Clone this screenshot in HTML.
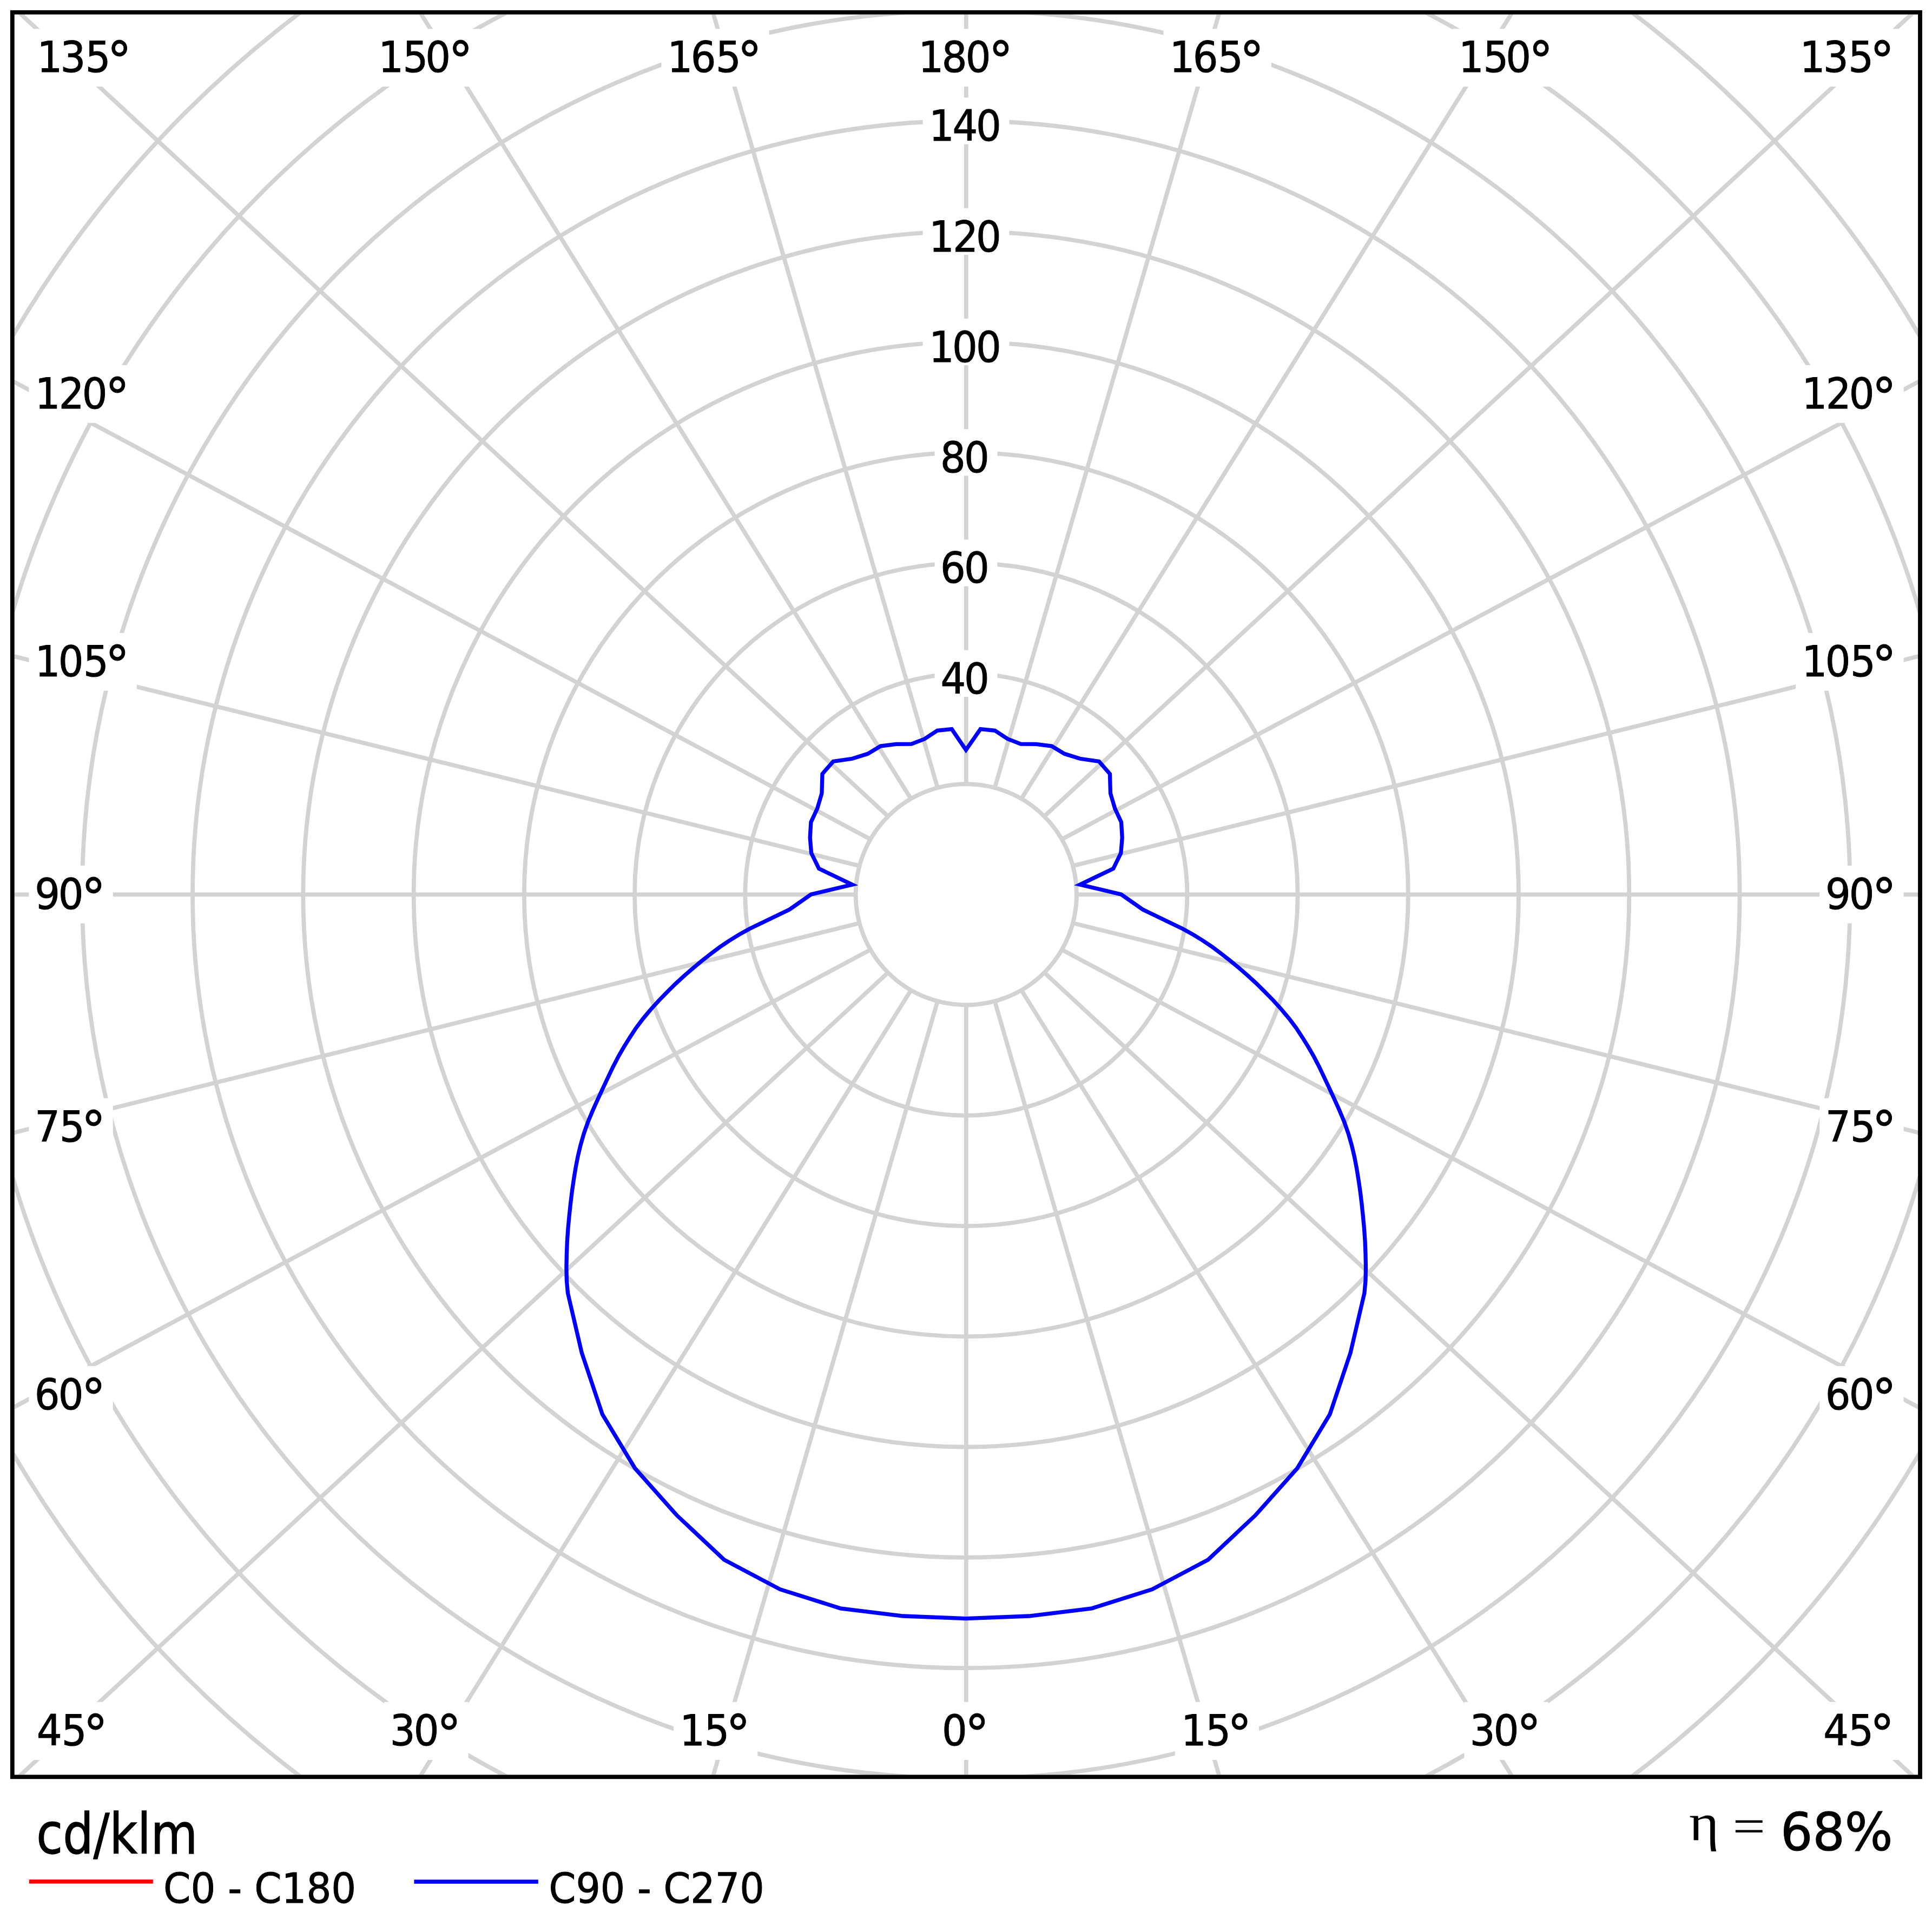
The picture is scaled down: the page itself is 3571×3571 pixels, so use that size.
<!DOCTYPE html>
<html><head><meta charset="utf-8"><title>Polar luminous intensity diagram</title><style>html,body{margin:0;padding:0;background:#fff;}svg{display:block;}</style></head><body>
<svg xmlns="http://www.w3.org/2000/svg" width="3571" height="3571" viewBox="0 0 3571 3571">
<rect width="3571" height="3571" fill="#fff"/>
<defs><clipPath id="fr"><rect x="27" y="27" width="3518" height="3253"/></clipPath></defs>
<g clip-path="url(#fr)">
<g fill="none" stroke="#d3d3d3" stroke-width="7.8">
<circle cx="1785.8" cy="1653.3" r="204.2"/>
<circle cx="1785.8" cy="1653.3" r="408.5"/>
<circle cx="1785.8" cy="1653.3" r="612.8"/>
<circle cx="1785.8" cy="1653.3" r="817.0"/>
<circle cx="1785.8" cy="1653.3" r="1021.2"/>
<circle cx="1785.8" cy="1653.3" r="1225.5"/>
<circle cx="1785.8" cy="1653.3" r="1429.8"/>
<circle cx="1785.8" cy="1653.3" r="1634.0"/>
<circle cx="1785.8" cy="1653.3" r="1838.2"/>
<circle cx="1785.8" cy="1653.3" r="2042.5"/>
<path d="M1785.8,1857.5L1785.8,4657.6M1838.7,1850.6L2617.7,4540.0M1887.9,1830.2L3370.5,4205.5M1930.2,1797.7L3985.7,3699.1M1962.7,1755.4L4432.5,3074.5M1983.1,1706.2L4700.9,2379.8M1990.0,1653.3L4790.1,1653.3M1983.1,1600.4L4700.9,926.8M1962.7,1551.2L4432.5,232.1M1930.2,1508.9L3985.7,-392.5M1887.9,1476.4L3370.5,-898.9M1838.7,1456.0L2617.7,-1233.4M1785.8,1449.0L1785.8,-1351.0M1732.9,1456.0L953.9,-1233.4M1683.7,1476.4L201.1,-898.9M1641.4,1508.9L-414.1,-392.5M1608.9,1551.2L-860.9,232.1M1588.5,1600.4L-1129.3,926.8M1581.5,1653.3L-1218.5,1653.3M1588.5,1706.2L-1129.3,2379.8M1608.9,1755.4L-860.9,3074.5M1641.4,1797.7L-414.1,3699.1M1683.7,1830.2L201.1,4205.5M1732.9,1850.6L953.9,4540.0"/>
</g>
<path d="M1785.4,2991.6 L1902.1,2987.0 L2018.0,2972.8 L2129.5,2937.7 L2232.9,2882.9 L2320.4,2800.8 L2397.7,2714.0 L2458.0,2614.1 L2496.1,2500.5 L2521.9,2390.0 L2524.0,2366.8 L2524.5,2342.7 L2524.0,2318.5 L2523.1,2294.7 L2521.5,2271.2 L2519.3,2247.8 L2516.9,2225.0 L2514.2,2202.7 L2511.0,2180.7 L2507.5,2159.1 L2503.4,2137.8 L2498.3,2116.4 L2492.2,2095.2 L2484.6,2073.6 L2475.6,2052.0 L2466.0,2030.8 L2456.5,2010.3 L2447.3,1990.8 L2438.4,1972.0 L2428.8,1953.5 L2418.2,1935.2 L2407.2,1917.4 L2395.8,1900.1 L2382.8,1882.8 L2368.6,1865.8 L2353.3,1849.0 L2337.5,1832.9 L2321.9,1817.5 L2305.8,1802.7 L2289.4,1788.6 L2273.1,1775.1 L2256.8,1762.3 L2240.7,1750.3 L2223.6,1738.7 L2205.6,1727.6 L2186.5,1717.0 L2112.1,1681.1 L2072.4,1653.2 L1996.1,1635.1 L2057.7,1605.5 L2071.8,1576.8 L2074.2,1548.4 L2072.5,1519.6 L2060.8,1494.5 L2052.5,1466.5 L2051.4,1430.3 L2031.4,1407.5 L1996.2,1402.3 L1967.6,1393.3 L1943.9,1379.1 L1915.1,1375.4 L1886.7,1375.1 L1862.5,1365.8 L1838.9,1350.3 L1812.2,1347.7 L1785.4,1386.1 L1759.2,1347.7 L1732.5,1350.3 L1708.9,1365.8 L1684.7,1375.1 L1656.3,1375.4 L1627.5,1379.1 L1603.8,1393.3 L1575.2,1402.3 L1540.0,1407.5 L1520.0,1430.3 L1518.9,1466.5 L1510.6,1494.5 L1498.9,1519.6 L1497.2,1548.4 L1499.6,1576.8 L1513.7,1605.5 L1575.3,1635.1 L1499.0,1653.2 L1459.3,1681.1 L1384.9,1717.0 L1365.8,1727.6 L1347.8,1738.7 L1330.7,1750.3 L1314.6,1762.3 L1298.3,1775.1 L1282.0,1788.6 L1265.6,1802.7 L1249.5,1817.5 L1233.9,1832.9 L1218.1,1849.0 L1202.8,1865.8 L1188.6,1882.8 L1175.6,1900.1 L1164.2,1917.4 L1153.2,1935.2 L1142.6,1953.5 L1133.0,1972.0 L1124.1,1990.8 L1114.9,2010.3 L1105.4,2030.8 L1095.8,2052.0 L1086.8,2073.6 L1079.2,2095.2 L1073.1,2116.4 L1068.0,2137.8 L1063.9,2159.1 L1060.4,2180.7 L1057.2,2202.7 L1054.5,2225.0 L1052.1,2247.8 L1049.9,2271.2 L1048.3,2294.7 L1047.4,2318.5 L1046.9,2342.7 L1047.4,2366.8 L1049.5,2390.0 L1075.3,2500.5 L1113.4,2614.1 L1173.7,2714.0 L1251.0,2800.8 L1338.5,2882.9 L1441.9,2937.7 L1553.4,2972.8 L1669.3,2987.0 Z" fill="none" stroke="#0000ff" stroke-width="7.3" stroke-linejoin="miter" stroke-miterlimit="10"/>
<g fill="#fff">
<rect x="57.2" y="53.3" width="199.3" height="106.8"/>
<rect x="3315.5" y="53.3" width="199.3" height="106.8"/>
<rect x="687.9" y="53.3" width="199.3" height="106.8"/>
<rect x="2684.8" y="53.3" width="199.3" height="106.8"/>
<rect x="1222.3" y="53.3" width="199.3" height="106.8"/>
<rect x="2150.4" y="53.3" width="199.3" height="106.8"/>
<rect x="1686.3" y="53.3" width="199.3" height="106.8"/>
<rect x="57.2" y="3145.8" width="155.3" height="107.2"/>
<rect x="3359.5" y="3145.8" width="155.3" height="107.2"/>
<rect x="710.3" y="3145.8" width="155.3" height="107.2"/>
<rect x="2706.4" y="3145.8" width="155.3" height="107.2"/>
<rect x="1245.0" y="3145.8" width="155.3" height="107.2"/>
<rect x="2171.7" y="3145.8" width="155.3" height="107.2"/>
<rect x="1730.5" y="3145.8" width="111.3" height="107.2"/>
<rect x="53.4" y="674.9" width="199.3" height="106.8"/>
<rect x="3319.3" y="674.9" width="199.3" height="106.8"/>
<rect x="53.4" y="1169.9" width="199.3" height="106.8"/>
<rect x="3319.3" y="1169.9" width="199.3" height="106.8"/>
<rect x="53.4" y="1599.9" width="155.3" height="106.8"/>
<rect x="3363.3" y="1599.9" width="155.3" height="106.8"/>
<rect x="53.4" y="2029.9" width="155.3" height="106.8"/>
<rect x="3363.3" y="2029.9" width="155.3" height="106.8"/>
<rect x="53.4" y="2524.9" width="155.3" height="106.8"/>
<rect x="3363.3" y="2524.9" width="155.3" height="106.8"/>
<rect x="1727.6" y="1201.7" width="115.9" height="86.2"/>
<rect x="1727.6" y="997.4" width="115.9" height="86.2"/>
<rect x="1727.6" y="793.2" width="115.9" height="86.2"/>
<rect x="1705.6" y="588.9" width="159.9" height="86.2"/>
<rect x="1705.6" y="384.7" width="159.9" height="86.2"/>
<rect x="1705.6" y="180.4" width="159.9" height="86.2"/>
</g>
</g>
<rect x="22.8" y="22.8" width="3526.2" height="3261.5" fill="none" stroke="#000" stroke-width="7.8"/>
<line x1="53.8" y1="3477.7" x2="282.8" y2="3477.7" stroke="#ff0000" stroke-width="7.5"/>
<line x1="765.4" y1="3477.9" x2="994.8" y2="3477.9" stroke="#0000ff" stroke-width="7.5"/>
<g font-family="&quot;DejaVu Sans&quot;, sans-serif" font-size="100" fill="#000" stroke="#000" stroke-width="1.3">
<text transform="matrix(0.735 0 0 0.785 0 132.90)" x="93.2 151.8 214.8" y="0">135<tspan x="269.8" dy="17.3" font-size="122.0">°</tspan></text>
<text transform="matrix(0.735 0 0 0.785 0 132.90)" x="4526.3 4584.9 4647.8" y="0">135<tspan x="4702.8" dy="17.3" font-size="122.0">°</tspan></text>
<text transform="matrix(0.735 0 0 0.785 0 132.90)" x="951.3 1013.0 1069.8" y="0">150<tspan x="1127.9" dy="17.3" font-size="122.0">°</tspan></text>
<text transform="matrix(0.735 0 0 0.785 0 132.90)" x="3668.2 3729.9 3786.6" y="0">150<tspan x="3844.7" dy="17.3" font-size="122.0">°</tspan></text>
<text transform="matrix(0.735 0 0 0.785 0 132.90)" x="1678.4 1737.0 1799.9" y="0">165<tspan x="1854.9" dy="17.3" font-size="122.0">°</tspan></text>
<text transform="matrix(0.735 0 0 0.785 0 132.90)" x="2941.1 2999.7 3062.6" y="0">165<tspan x="3117.7" dy="17.3" font-size="122.0">°</tspan></text>
<text transform="matrix(0.735 0 0 0.785 0 132.90)" x="2309.7 2368.3 2428.2" y="0">180<tspan x="2486.3" dy="17.3" font-size="122.0">°</tspan></text>
<text transform="matrix(0.735 0 0 0.785 0 3225.70)" x="92.4 154.9" y="0">45<tspan x="209.9" dy="17.3" font-size="122.0">°</tspan></text>
<text transform="matrix(0.735 0 0 0.785 0 3225.70)" x="4585.4 4647.8" y="0">45<tspan x="4702.8" dy="17.3" font-size="122.0">°</tspan></text>
<text transform="matrix(0.735 0 0 0.785 0 3225.70)" x="980.5 1040.4" y="0">30<tspan x="1098.5" dy="17.3" font-size="122.0">°</tspan></text>
<text transform="matrix(0.735 0 0 0.785 0 3225.70)" x="3696.3 3756.2" y="0">30<tspan x="3814.3" dy="17.3" font-size="122.0">°</tspan></text>
<text transform="matrix(0.735 0 0 0.785 0 3225.70)" x="1709.3 1770.9" y="0">15<tspan x="1826.0" dy="17.3" font-size="122.0">°</tspan></text>
<text transform="matrix(0.735 0 0 0.785 0 3225.70)" x="2970.1 3031.8" y="0">15<tspan x="3086.8" dy="17.3" font-size="122.0">°</tspan></text>
<text transform="matrix(0.735 0 0 0.785 0 3225.70)" x="2368.6" y="0">0<tspan x="2426.7" dy="17.3" font-size="122.0">°</tspan></text>
<text transform="matrix(0.735 0 0 0.785 0 754.80)" x="88.0 148.1 206.5" y="0">120<tspan x="264.6" dy="17.3" font-size="122.0">°</tspan></text>
<text transform="matrix(0.735 0 0 0.785 0 754.80)" x="4531.4 4591.5 4649.9" y="0">120<tspan x="4708.0" dy="17.3" font-size="122.0">°</tspan></text>
<text transform="matrix(0.735 0 0 0.785 0 1249.80)" x="88.0 146.6 209.6" y="0">105<tspan x="264.6" dy="17.3" font-size="122.0">°</tspan></text>
<text transform="matrix(0.735 0 0 0.785 0 1249.80)" x="4531.4 4590.0 4653.0" y="0">105<tspan x="4708.0" dy="17.3" font-size="122.0">°</tspan></text>
<text transform="matrix(0.735 0 0 0.785 0 1679.80)" x="87.3 146.6" y="0">90<tspan x="204.7" dy="17.3" font-size="122.0">°</tspan></text>
<text transform="matrix(0.735 0 0 0.785 0 1679.80)" x="4590.5 4649.9" y="0">90<tspan x="4708.0" dy="17.3" font-size="122.0">°</tspan></text>
<text transform="matrix(0.735 0 0 0.785 0 2109.80)" x="87.3 149.7" y="0">75<tspan x="204.7" dy="17.3" font-size="122.0">°</tspan></text>
<text transform="matrix(0.735 0 0 0.785 0 2109.80)" x="4590.5 4653.0" y="0">75<tspan x="4708.0" dy="17.3" font-size="122.0">°</tspan></text>
<text transform="matrix(0.735 0 0 0.785 0 2604.80)" x="86.8 146.6" y="0">60<tspan x="204.7" dy="17.3" font-size="122.0">°</tspan></text>
<text transform="matrix(0.735 0 0 0.785 0 2604.80)" x="4590.0 4649.9" y="0">60<tspan x="4708.0" dy="17.3" font-size="122.0">°</tspan></text>
<text transform="matrix(0.735 0 0 0.785 0 1281.70)" x="2365.2 2424.5" y="0">40</text>
<text transform="matrix(0.735 0 0 0.785 0 1077.45)" x="2364.7 2424.5" y="0">60</text>
<text transform="matrix(0.735 0 0 0.785 0 873.20)" x="2364.7 2424.5" y="0">80</text>
<text transform="matrix(0.735 0 0 0.785 0 668.95)" x="2336.0 2394.6 2454.5" y="0">100</text>
<text transform="matrix(0.735 0 0 0.785 0 464.70)" x="2336.0 2396.1 2454.5" y="0">120</text>
<text transform="matrix(0.735 0 0 0.785 0 260.45)" x="2336.0 2395.1 2454.5" y="0">140</text>
<text transform="matrix(0.8891 0 0 1.0376 67.27 3426.06)" font-family="&quot;DejaVu Sans&quot;, sans-serif">cd/klm</text>
<text transform="matrix(0.7214 0 0 0.7658 302.07 3516.83)" font-family="&quot;DejaVu Sans&quot;, sans-serif">C0 - C180</text>
<text transform="matrix(0.7143 0 0 0.7684 1014.51 3517.13)" font-family="&quot;DejaVu Sans&quot;, sans-serif">C90 - C270</text>
<text transform="matrix(0.9333 0 0 0.9592 3291.07 3420.44)" font-family="&quot;DejaVu Sans&quot;, sans-serif">68%</text>
<text transform="matrix(1.0600 0 0 0.9632 3122.08 3400.57)" font-family="&quot;Liberation Serif&quot;, serif" stroke-width="0">η</text>
<text transform="matrix(1.0723 0 0 0.8960 3202.44 3405.12)" font-family="&quot;Liberation Serif&quot;, serif" stroke-width="0">=</text>
</g>
</svg>
</body></html>
